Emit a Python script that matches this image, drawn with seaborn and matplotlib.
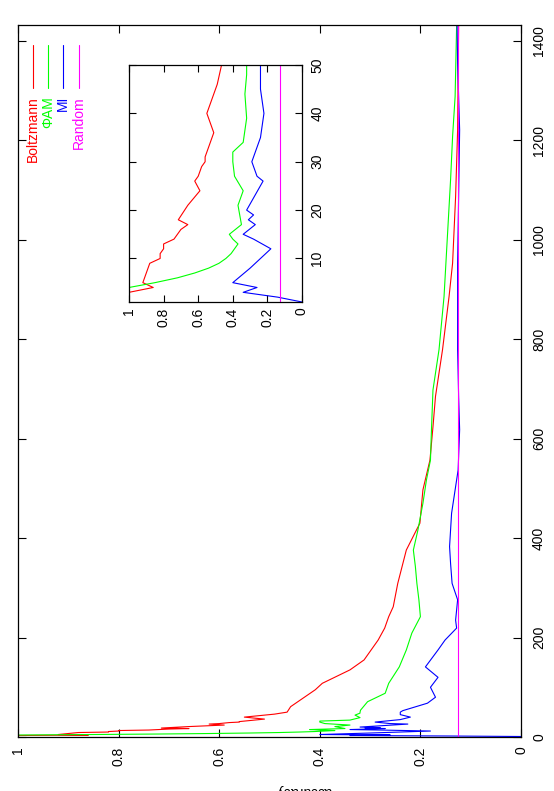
import numpy as np
import pandas as pd
import matplotlib
matplotlib.use('Agg')
import matplotlib.pyplot as plt
from matplotlib.lines import Line2D
import seaborn as sns

sns.set_theme(style='white')
plt.rcParams['font.family'] = ['Liberation Sans', 'DejaVu Sans']

# values (t = step, v = score)
methods = ['Boltzmann', 'ΦAM', 'MI', 'Random']
colors = ['#ff0000', '#00ff00', '#0000ff', '#ff00ff']

boltz_t = [1, 3, 4, 5, 9, 10, 11, 12, 13, 14, 15, 16, 17, 18, 21, 24, 26, 27, 29, 30,
           31, 32, 36, 40, 42, 46, 50, 61, 95, 108, 135, 155, 175, 195, 219, 242,
           262, 309, 376, 430, 497, 557, 624, 685, 779, 886, 953, 1087, 1221, 1430]
boltz_v = [1.0, 1.0, 0.86, 0.92, 0.88, 0.82, 0.82, 0.80, 0.80, 0.74, 0.72, 0.70, 0.66,
           0.715, 0.66, 0.59, 0.62, 0.60, 0.58, 0.56, 0.56, 0.55, 0.51, 0.55, 0.53,
           0.49, 0.465, 0.458, 0.409, 0.395, 0.340, 0.312, 0.298, 0.284, 0.271, 0.263,
           0.254, 0.245, 0.228, 0.201, 0.195, 0.181, 0.175, 0.170, 0.156, 0.143, 0.136,
           0.130, 0.126, 0.124]

pham_t = [1, 4, 5, 6, 7, 8, 9, 10, 11, 12, 13, 14, 15, 17, 19, 21, 24, 27, 30, 32, 34,
          39, 44, 48, 50, 54, 71, 88, 108, 141, 175, 209, 242, 276, 309, 343, 376, 416,
          470, 517, 557, 618, 698, 779, 886, 1121, 1208, 1288, 1430]
pham_v = [1.0, 1.0, 0.85, 0.72, 0.62, 0.54, 0.48, 0.44, 0.41, 0.39, 0.37, 0.40, 0.42,
          0.35, 0.36, 0.37, 0.34, 0.39, 0.40, 0.40, 0.34, 0.32, 0.33, 0.32, 0.32, 0.319,
          0.305, 0.270, 0.263, 0.242, 0.228, 0.217, 0.200, 0.203, 0.207, 0.210, 0.214,
          0.205, 0.195, 0.188, 0.180, 0.178, 0.175, 0.163, 0.153, 0.140, 0.136, 0.131,
          0.128]

mi_t = [1, 2, 3, 4, 5, 8, 12, 14, 15, 17, 18, 19, 20, 26, 27, 30, 35, 40, 45, 50, 53,
        68, 80, 100, 120, 141, 175, 195, 219, 235, 276, 309, 349, 383, 450, 537, 618,
        685, 779, 953, 1155, 1221, 1355, 1430]
mi_v = [0.0, 0.14, 0.34, 0.26, 0.40, 0.30, 0.18, 0.28, 0.34, 0.27, 0.31, 0.28, 0.32,
        0.225, 0.26, 0.29, 0.24, 0.22, 0.24, 0.24, 0.235, 0.186, 0.17, 0.18, 0.165,
        0.19, 0.165, 0.151, 0.128, 0.13, 0.126, 0.137, 0.14, 0.142, 0.138, 0.125,
        0.122, 0.124, 0.126, 0.126, 0.123, 0.122, 0.126, 0.127]

random_t = [1, 1430]
random_v = [0.125, 0.125]

score_ticks = [0, 0.2, 0.4, 0.6, 0.8, 1]
step_ticks = [0, 200, 400, 600, 800, 1000, 1200, 1400]
inset_step_ticks = [10, 20, 30, 40, 50]

frames = []
for name, t, v in zip(methods, [boltz_t, pham_t, mi_t, random_t],
                      [boltz_v, pham_v, mi_v, random_v]):
    frames.append(pd.DataFrame({'method': name, 't': t, 'score': v}))
df = pd.concat(frames, ignore_index=True)
palette = dict(zip(methods, colors))

W, H = 554, 791
fig = plt.figure(figsize=(W / 100, H / 100), dpi=100)


def box(l, t, r, b):
    return [l / W, 1 - b / H, (r - l) / W, (b - t) / H]


ax = fig.add_axes(box(18, 25, 521, 737))
ins = fig.add_axes(box(129, 65, 302, 302))

for a in (ax, ins):
    sns.lineplot(data=df, x='score', y='t', hue='method', palette=palette,
                 sort=False, estimator=None, legend=False, ax=a, linewidth=0.8)
    a.set_xlabel('')
    a.set_ylabel('')
    for s in a.spines.values():
        s.set_color('black')
        s.set_linewidth(0.9)
    a.set_xticks(score_ticks)
    a.set_xticklabels([f'{v:g}' for v in score_ticks])
    a.yaxis.tick_right()
    a.tick_params(axis='both', direction='in', length=6, width=0.8, color='black',
                  labelsize=10, labelcolor='black', top=True, bottom=True,
                  left=True, right=True, labelleft=False, labelright=True)

ax.set_xlim(1, 0)
ax.set_ylim(0, 1432)
ax.set_yticks(step_ticks)
ax.tick_params(axis='x', labelrotation=90, pad=7)
ax.tick_params(axis='y', labelrotation=90, pad=8)

ins.set_xlim(1, 0)
ins.set_ylim(1, 50)
ins.set_yticks(inset_step_ticks)
ins.tick_params(axis='x', labelrotation=90, pad=4)
ins.tick_params(axis='y', labelrotation=90, pad=6, length=5)
ins.tick_params(axis='x', length=5)

for a in (ax, ins):
    for lab in a.get_yticklabels():
        lab.set_va('center')

# legend, drawn sideways like the rest of the page
for x, name, c in zip([33, 48, 63, 79], methods, colors):
    fig.add_artist(Line2D([x / W, x / W], [1 - 45 / H, 1 - 88 / H],
                          transform=fig.transFigure, color=c, lw=0.8))
    fig.text(x / W, 1 - 96 / H, name, rotation=90, ha='center', va='top',
             color=c, fontsize=10)

# axis title, upside down and mostly cut off at the page edge
fig.text(303 / W, 1 - 784 / H, 'accuracy', rotation=180, ha='center', va='top',
         fontsize=10, color='black')

fig.savefig('out.png', dpi=100)
